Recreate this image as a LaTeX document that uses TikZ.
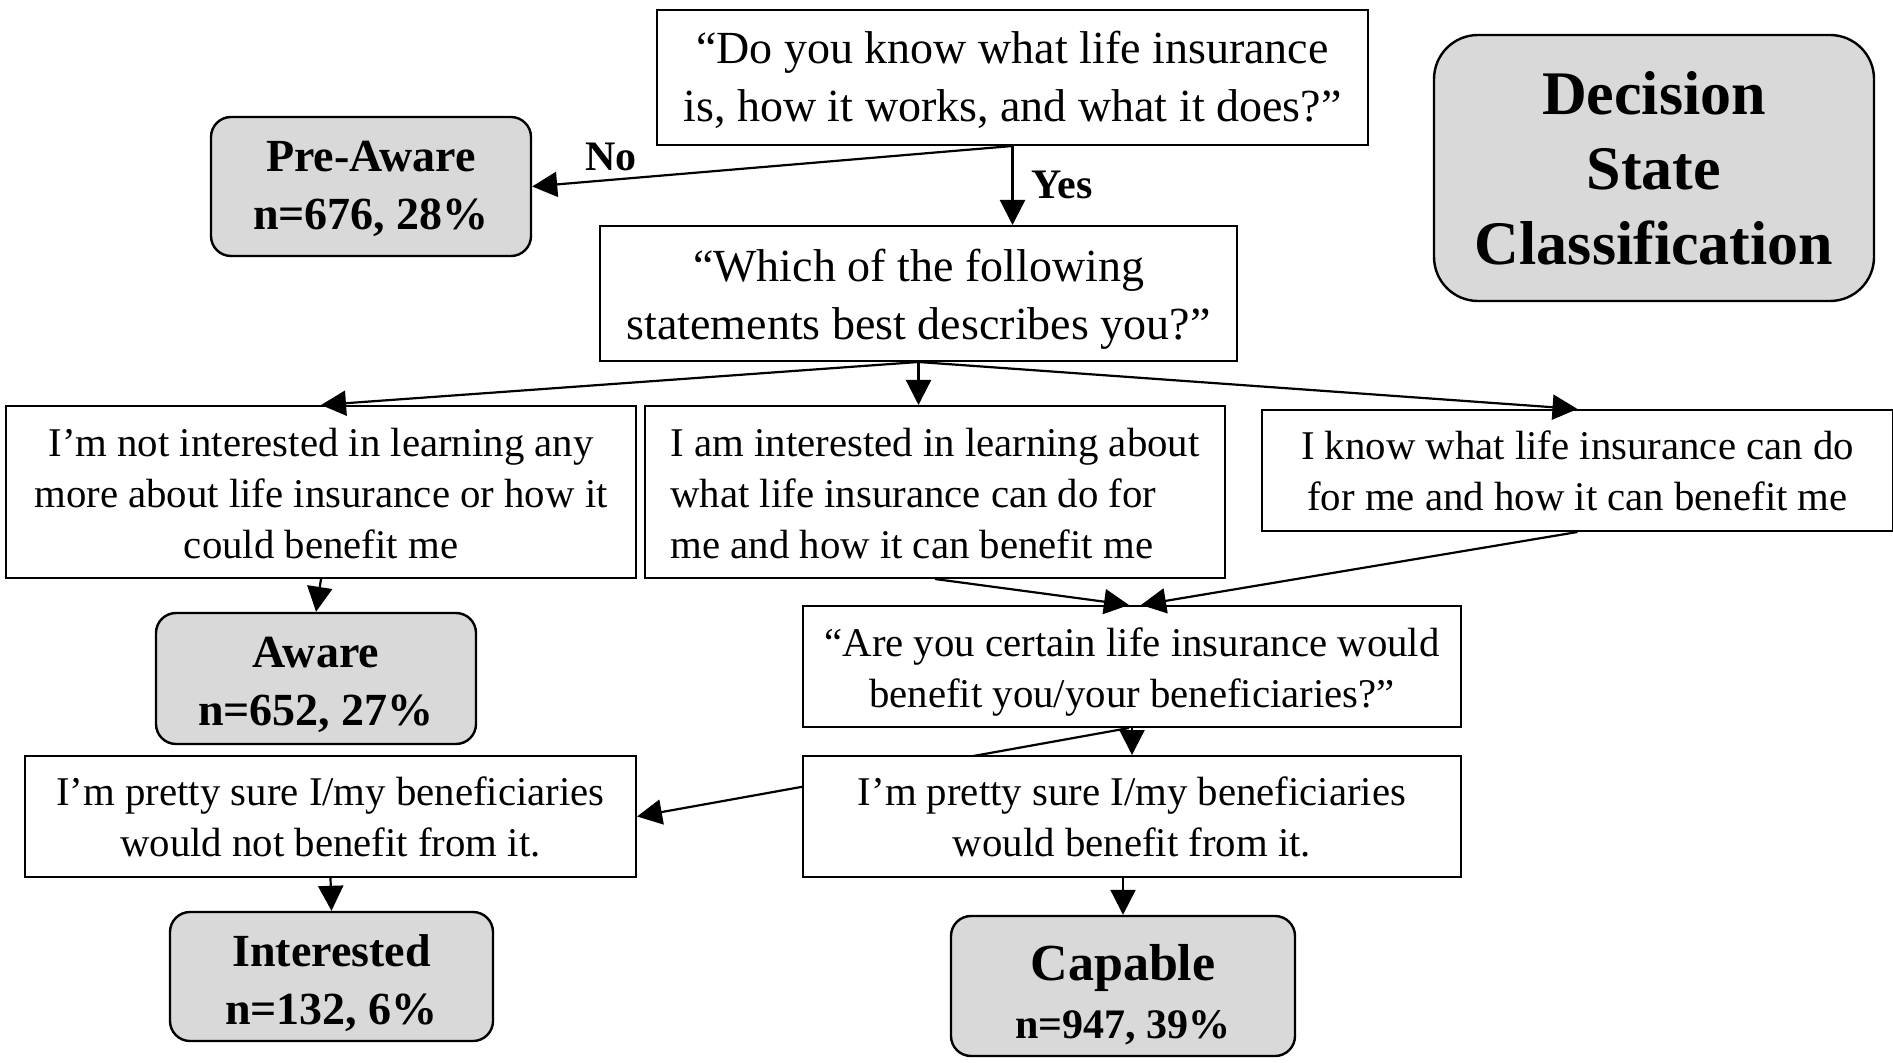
\documentclass[tikz,border=0pt]{standalone}
\usepackage{fontspec}
\setmainfont{Liberation Serif}
\usetikzlibrary{arrows.meta,backgrounds,calc}
\definecolor{statefill}{HTML}{D9D9D9}
\newcommand{\lift}[1]{\rule{0pt}{#1}}
\begin{document}
\begin{tikzpicture}[x=0.5pt,y=-0.5pt,
 qbox/.style={draw=black, line width=1pt, fill=white, inner sep=0pt, align=center},
 state/.style={draw=black, line width=1.2pt, fill=statefill, rounded corners=10pt, inner sep=0pt, align=center, font=\bfseries\fontsize{23}{29}\selectfont},
 conn/.style={line width=1.1pt, -{Triangle[length=12.5pt,width=12.5pt]}},
 qfont/.style={font=\fontsize{23}{29}\selectfont},
 sfont/.style={font=\fontsize{20.4}{25.5}\selectfont},
 lab/.style={font=\bfseries\fontsize{21}{25}\selectfont, inner sep=0pt}
]
\useasboundingbox (0,0) rectangle (1893,1063);

\node[qbox, qfont, minimum width=355.5pt, minimum height=67.5pt] (q1) at (1012.5,77.5) {\lift{19pt}“Do you know what life insurance\\is, how it works, and what it does?”};
\node[state, minimum width=160pt, minimum height=69.5pt] (pre) at (371,186.5) {\lift{18pt}Pre-Aware\\n=676, 28\%};
\node[state, rounded corners=22pt, minimum width=220pt, minimum height=133pt, font=\bfseries\fontsize{31}{37.5}\selectfont] (dec) at (1654,168) {Decision\\State\\Classification};
\node[qbox, qfont, minimum width=318.5pt, minimum height=67.5pt] (q2) at (918.5,293.5) {\lift{22pt}“Which of the following\\statements best describes you?”};
\node[qbox, sfont, minimum width=315pt, minimum height=86pt] (l) at (321,492) {\lift{16pt}I’m not interested in learning any\\more about life insurance or how it\\could benefit me};
\node[qbox, sfont, align=left, minimum width=290pt, minimum height=86pt] (m) at (935,492) {\lift{16pt}I am interested in learning about\\what life insurance can do for\\me and how it can benefit me};
\node[qbox, sfont, minimum width=315.5pt, minimum height=60.5pt] (r) at (1577.5,470.5) {I know what life insurance can do\\for me and how it can benefit me};
\node[state, minimum width=160pt, minimum height=65.5pt] (aware) at (316,678.5) {\lift{21.5pt}Aware\\n=652, 27\%};
\node[qbox, sfont, minimum width=329pt, minimum height=60.5pt] (q3) at (1132,666.5) {\lift{20pt}“Are you certain life insurance would\\benefit you/your beneficiaries?”};
\node[qbox, sfont, minimum width=305.5pt, minimum height=60.5pt] (nb) at (330.5,816.5) {I’m pretty sure I/my beneficiaries\\would not benefit from it.};
\node[qbox, sfont, minimum width=329pt, minimum height=60.5pt] (b) at (1132,816.5) {I’m pretty sure I/my beneficiaries\\would benefit from it.};
\node[state, minimum width=161.5pt, minimum height=64.5pt] (int) at (331.5,976.5) {\lift{23pt}Interested\\n=132, 6\%};
\node[state, minimum width=172pt, minimum height=70pt] (cap) at (1123,986) {{\fontsize{26}{32}\selectfont\lift{27pt}Capable}\\{\fontsize{21}{26}\selectfont n=947, 39\%}};

\node[lab] (no) at (611,157) {No};
\node[lab] (yes) at (1062,185) {Yes};

\draw[conn] (q1.south) -- (pre.east);
\draw[conn] (q1.south) -- (q1.south |- q2.north);
\draw[conn] (q2.south) -- (l.north);
\draw[conn] (q2.south) -- (q2.south |- m.north);
\draw[conn] (q2.south) -- (r.north);
\draw[conn] (l.south) -- (aware.north);
\draw[conn] (m.south) -- ([xshift=-1.5pt]q3.north);
\draw[conn] (r.south) -- ([xshift=4.5pt]q3.north);
\draw[conn] (q3.south) -- (b.north);
\begin{scope}[on background layer]
\draw[conn] ([xshift=-1.5pt]q3.south) -- (nb.east);
\end{scope}
\draw[conn] (nb.south) -- (int.north);
\draw[conn] (cap.north |- b.south) -- (cap.north);
\end{tikzpicture}
\end{document}
